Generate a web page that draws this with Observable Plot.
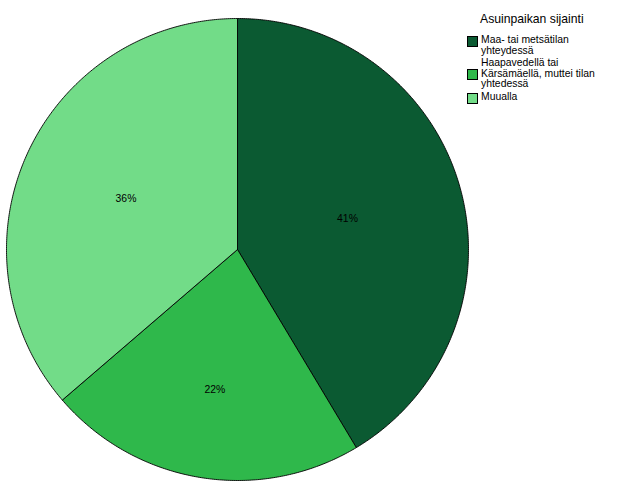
<!DOCTYPE html>
<html>
<head>
<meta charset="utf-8">
<script src="https://cdn.jsdelivr.net/npm/d3@7"></script>
<script src="https://cdn.jsdelivr.net/npm/@observablehq/plot@0.6"></script>
<style>
  body { margin: 0; background: #fff; font-family: "Liberation Sans", Arial, sans-serif; }
  #wrap { position: relative; width: 626px; height: 501px; }
  #legend { position: absolute; left: 467px; top: 12px; color: #000; }
  #legend .title { font-size: 12.2px; margin-left: 13px; margin-bottom: 9px; }
  #legend .item { display: flex; align-items: flex-start; font-size: 10.4px; line-height: 10.6px; margin-bottom: 2px; }
  #legend .sw { width: 9px; height: 9px; border: 1px solid #000; margin-right: 3px; flex: none; }
</style>
</head>
<body>
<div id="wrap"></div>
<script>
const categories = ["Maa- tai metsätilan yhteydessä", "Haapavedellä tai Kärsämäellä, muttei tilan yhtedessä", "Muualla"];
const legendLines = [["Maa- tai metsätilan", "yhteydessä"], ["Haapavedellä tai", "Kärsämäellä, muttei tilan", "yhtedessä"], ["Muualla"]];
const values = [41.4, 22.3, 36.3];
const colors = ["#0b5a32", "#2fb84b", "#72dc88"];
const legendTitle = "Asuinpaikan sijainti";

const total = d3.sum(values);
const pie = d3.pie().sort(null).value(d => d.value)(categories.map((name, i) => ({name, value: values[i]})));

// polygon points for each slice (angle measured clockwise from top)
const pts = [];
const labels = [];
pie.forEach(s => {
  const name = s.data.name;
  pts.push({name, x: 0, y: 0});
  const n = Math.max(2, Math.ceil((s.endAngle - s.startAngle) / (Math.PI / 360)));
  for (let k = 0; k <= n; k++) {
    const a = s.startAngle + (s.endAngle - s.startAngle) * k / n;
    pts.push({name, x: Math.sin(a), y: Math.cos(a)});
  }
  pts.push({name, x: 0, y: 0});
  const half = (s.endAngle - s.startAngle) / 2;
  const d = 2 * Math.sin(half) / (3 * half);
  const mid = (s.startAngle + s.endAngle) / 2;
  labels.push({x: d * Math.sin(mid), y: d * Math.cos(mid), text: Math.round(s.data.value / total * 100) + "%"});
});

const chart = Plot.plot({
  width: 626,
  height: 501,
  marginLeft: 6,
  marginRight: 158,
  marginTop: 18,
  marginBottom: 21,
  x: {domain: [-1, 1], axis: null},
  y: {domain: [-1, 1], axis: null},
  color: {domain: categories, range: colors},
  style: {fontFamily: "Liberation Sans, Arial, sans-serif", background: "#fff"},
  marks: [
    Plot.line(pts, {x: "x", y: "y", z: "name", fill: "name", stroke: "#000", strokeWidth: 0.9, strokeLinejoin: "round"}),
    Plot.text(labels, {x: "x", y: "y", text: "text", fill: "#000", fontSize: 10.4})
  ]
});

const wrap = document.getElementById("wrap");
wrap.appendChild(chart);

const legend = document.createElement("div");
legend.id = "legend";
const t = document.createElement("div");
t.className = "title";
t.textContent = legendTitle;
legend.appendChild(t);
legendLines.forEach((lines, i) => {
  const item = document.createElement("div");
  item.className = "item";
  const sw = document.createElement("div");
  sw.className = "sw";
  sw.style.background = colors[i];
  sw.style.marginTop = (lines.length === 3 ? 11 : 1) + "px";
  const tx = document.createElement("div");
  tx.innerHTML = lines.join("<br>");
  item.appendChild(sw);
  item.appendChild(tx);
  legend.appendChild(item);
});
wrap.appendChild(legend);
</script>
</body>
</html>
